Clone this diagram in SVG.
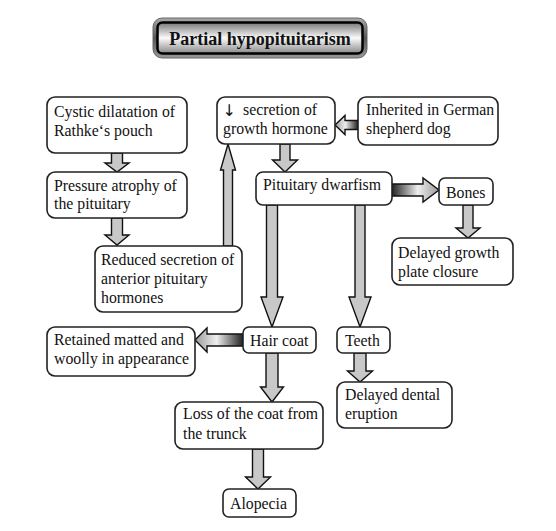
<svg xmlns="http://www.w3.org/2000/svg" width="556" height="531" viewBox="0 0 556 531">
<defs>
<style>
.box{fill:#fff;stroke:#222;stroke-width:1.6}
.t{font-family:"Liberation Serif","Times New Roman",serif;font-size:15.8px;fill:#111}
.ar{fill:#c8c8c8;stroke:#111;stroke-width:1.4;stroke-linejoin:miter}
.title{font-family:"Liberation Serif","Times New Roman",serif;font-size:18px;font-weight:bold;fill:#111}
</style>
<linearGradient id="gR" x1="0" y1="0" x2="1" y2="0">
<stop offset="0" stop-color="#222"/>
<stop offset="0.55" stop-color="#eee"/>
<stop offset="1" stop-color="#999"/>
</linearGradient>
<linearGradient id="gL" x1="1" y1="0" x2="0" y2="0">
<stop offset="0" stop-color="#222"/>
<stop offset="0.55" stop-color="#eee"/>
<stop offset="1" stop-color="#999"/>
</linearGradient>
<linearGradient id="gT" x1="0" y1="0" x2="0" y2="1">
<stop offset="0" stop-color="#777"/>
<stop offset="0.5" stop-color="#fafafa"/>
<stop offset="1" stop-color="#888"/>
</linearGradient>
<linearGradient id="gO" x1="0" y1="0" x2="0" y2="1">
<stop offset="0" stop-color="#aaa"/>
<stop offset="0.5" stop-color="#555"/>
<stop offset="1" stop-color="#999"/>
</linearGradient>
</defs>
<rect width="556" height="531" fill="#fff"/>

<g id="title">
<rect x="153" y="18" width="214" height="40" rx="9" fill="url(#gO)" stroke="#666" stroke-width="1"/>
<rect x="157.5" y="22.5" width="205" height="31" rx="5" fill="url(#gT)" stroke="#000" stroke-width="2.5"/>
<text class="title" x="260" y="45" text-anchor="middle">Partial hypopituitarism</text>
</g>

<g id="connectors">
<path class="ar" d="M111.5,153 L122.5,153 L122.5,163 L129,163 L117,172 L105,163 L111.5,163 Z"/>
<path class="ar" d="M111.5,218 L122.5,218 L122.5,235 L129,235 L117,245 L105,235 L111.5,235 Z"/>
<path class="ar" d="M223.5,246 L232.5,246 L232.5,170 L235.5,170 L228,144 L220.5,170 L223.5,170 Z"/>
<path class="ar" d="M280,144 L290,144 L290,160 L297.5,160 L285,172 L272.5,160 L280,160 Z"/>
<path class="ar" d="M266.5,205 L277.5,205 L277.5,297 L283,297 L272,327 L261,297 L266.5,297 Z"/>
<path class="ar" d="M355,205 L365,205 L365,297 L371,297 L360,327 L349,297 L355,297 Z"/>
<path class="ar" d="M266,353 L278,353 L278,387 L283.5,387 L272,402 L260.5,387 L266,387 Z"/>
<path class="ar" d="M354,353 L366,353 L366,371 L372.5,371 L360,382 L347.5,371 L354,371 Z"/>
<path class="ar" d="M252.5,449 L263.5,449 L263.5,477 L270.5,477 L258,489 L245.5,477 L252.5,477 Z"/>
<path class="ar" d="M463,205 L473,205 L473,228 L480,228 L468,238 L456,228 L463,228 Z"/>
<path class="ar" style="fill:url(#gR)" d="M392,184 L423,184 L423,178 L439,190 L423,202 L423,196 L392,196 Z"/>
<path class="ar" style="fill:url(#gL)" d="M243,334 L207,334 L207,328 L195,340 L207,352 L207,346 L243,346 Z"/>
<path class="ar" style="fill:url(#gL)" d="M358,120.5 L345,120.5 L345,115.5 L335,125 L345,134.5 L345,129.5 L358,129.5 Z"/>
</g>

<g id="n1"><rect class="box" x="47" y="97" width="140" height="56" rx="8"/>
<text class="t" x="54" y="117">Cystic dilatation of</text><text class="t" x="54" y="136">Rathke‘s pouch</text></g>

<g id="n2"><rect class="box" x="47" y="172" width="140" height="46" rx="8"/>
<text class="t" x="54" y="190.5">Pressure atrophy of</text><text class="t" x="54" y="209">the pituitary</text></g>

<g id="n3"><rect class="box" x="95" y="246" width="147" height="66" rx="8"/>
<text class="t" x="101" y="265">Reduced secretion of</text><text class="t" x="101" y="284">anterior pituitary</text><text class="t" x="101" y="303">hormones</text></g>

<g id="n4"><rect class="box" x="217" y="97" width="118" height="47" rx="8"/>
<text class="t" x="222.5" y="116" style="font-family:'DejaVu Sans',sans-serif;font-size:16px">↓</text><text class="t" x="243" y="115">secretion of</text><text class="t" x="223" y="134">growth hormone</text></g>

<g id="n5"><rect class="box" x="358" y="97" width="140" height="48" rx="8"/>
<text class="t" x="366" y="115">Inherited in German</text><text class="t" x="366" y="134">shepherd dog</text></g>

<g id="n6"><rect class="box" x="256" y="172" width="136" height="33" rx="7"/>
<text class="t" x="263" y="190">Pituitary dwarfism</text></g>

<g id="n7"><rect class="box" x="439" y="178" width="54" height="27" rx="6"/>
<text class="t" x="446" y="198">Bones</text></g>

<g id="n8"><rect class="box" x="392" y="238" width="121" height="47" rx="8"/>
<text class="t" x="398" y="258">Delayed growth</text><text class="t" x="398" y="277">plate closure</text></g>

<g id="n9"><rect class="box" x="243" y="327" width="73" height="26" rx="6"/>
<text class="t" x="250" y="346">Hair coat</text></g>

<g id="n10"><rect class="box" x="337" y="327" width="53" height="26" rx="6"/>
<text class="t" x="345" y="346">Teeth</text></g>

<g id="n11"><rect class="box" x="337" y="382" width="115" height="46" rx="8"/>
<text class="t" x="345" y="400">Delayed dental</text><text class="t" x="345" y="419">eruption</text></g>

<g id="n12"><rect class="box" x="47" y="327" width="148" height="49" rx="8"/>
<text class="t" x="54" y="345">Retained matted and</text><text class="t" x="54" y="364">woolly in appearance</text></g>

<g id="n13"><rect class="box" x="175" y="402" width="148" height="47" rx="8"/>
<text class="t" x="183" y="419">Loss of the coat from</text><text class="t" x="183" y="439">the trunck</text></g>

<g id="n14"><rect class="box" x="223" y="489" width="73" height="28" rx="6"/>
<text class="t" x="230" y="509">Alopecia</text></g>
</svg>
